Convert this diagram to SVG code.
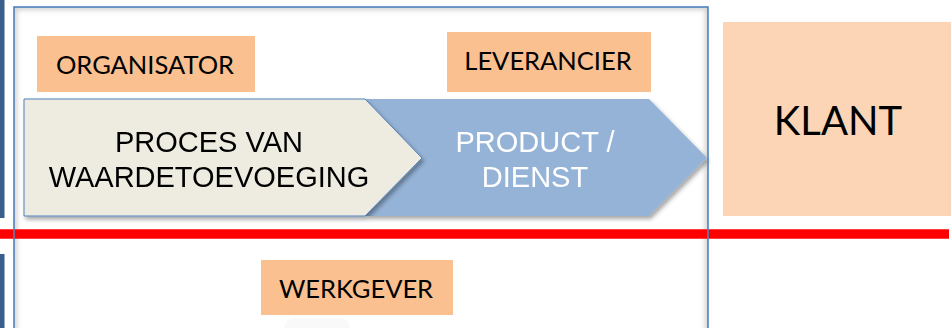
<svg xmlns="http://www.w3.org/2000/svg" width="951" height="328" viewBox="0 0 951 328">
  <style>
    .lbl { fill: #FAC090; }
    .lbltxt { font-family: Lato, "Open Sans", sans-serif; font-size: 25.5px; fill: #000; text-anchor: middle; }
    .big { font-family: "Liberation Sans", Arial, sans-serif; font-size: 29px; text-anchor: middle; }
  </style>
  <defs>
    <filter id="sh" x="-10%" y="-10%" width="130%" height="140%">
      <feGaussianBlur in="SourceAlpha" stdDeviation="2"/>
      <feOffset dx="2" dy="3" result="b"/>
      <feComponentTransfer><feFuncA type="linear" slope="0.35"/></feComponentTransfer>
      <feMerge><feMergeNode/><feMergeNode in="SourceGraphic"/></feMerge>
    </filter>
    <filter id="blur3"><feGaussianBlur stdDeviation="2.5"/></filter>
    <clipPath id="boxclip"><rect x="14" y="7" width="694" height="330"/></clipPath>
  </defs>

  <rect width="951" height="328" fill="#FFFFFF"/>

  <!-- left edge bars -->
  <g id="edge-bars" fill="#3A5E8C">
    <rect x="0" y="0" width="4.5" height="218"/>
    <rect x="0" y="254" width="4.5" height="74"/>
  </g>

  <!-- inner shadow of frame -->
  <g clip-path="url(#boxclip)">
    <rect x="14" y="7" width="694" height="340" fill="none" stroke="#BDBDBD" stroke-width="6" filter="url(#blur3)" opacity="0.7"/>
  </g>

  <g id="klant">
    <rect x="723" y="22" width="228" height="194" fill="#FBD5B5"/>
    <text x="838" y="135" font-family="Lato, 'Open Sans', sans-serif" font-size="40" text-anchor="middle" fill="#000">KLANT</text>
  </g>

  <g id="organisator">
    <rect class="lbl" x="37" y="36" width="218" height="56"/>
    <text class="lbltxt" x="145" y="74">ORGANISATOR</text>
  </g>

  <g id="leverancier">
    <rect class="lbl" x="447" y="32" width="204" height="60"/>
    <text class="lbltxt" x="548" y="70">LEVERANCIER</text>
  </g>

  <g id="werkgever">
    <rect class="lbl" x="261" y="260" width="192" height="55"/>
    <text class="lbltxt" x="356" y="298">WERKGEVER</text>
  </g>

  <rect x="284" y="318" width="66" height="20" rx="10" fill="#F9F9F9"/>

  <g id="product-dienst" filter="url(#sh)">
    <polygon points="365,99 649,99 707,158 649,216 365,216 422,158" fill="#95B3D7"/>
    <text class="big" x="535" y="152" fill="#FFFFFF">PRODUCT /</text>
    <text class="big" x="535" y="187" fill="#FFFFFF">DIENST</text>
  </g>

  <g id="proces" filter="url(#sh)">
    <polygon points="24,99 365,99 422,158 365,216 24,216" fill="#EEECE1" stroke="#4F81BD" stroke-width="1"/>
    <text class="big" x="209" y="152" fill="#000">PROCES VAN</text>
    <text class="big" x="209" y="187" fill="#000">WAARDETOEVOEGING</text>
  </g>

  <g id="connectors">
    <line x1="0" y1="234" x2="949" y2="234" stroke="#FF0000" stroke-width="9.5"/>
  </g>

  <g id="frame">
    <rect x="14" y="7" width="694" height="340" fill="none" stroke="#4F81BD" stroke-width="1.6"/>
  </g>
</svg>
